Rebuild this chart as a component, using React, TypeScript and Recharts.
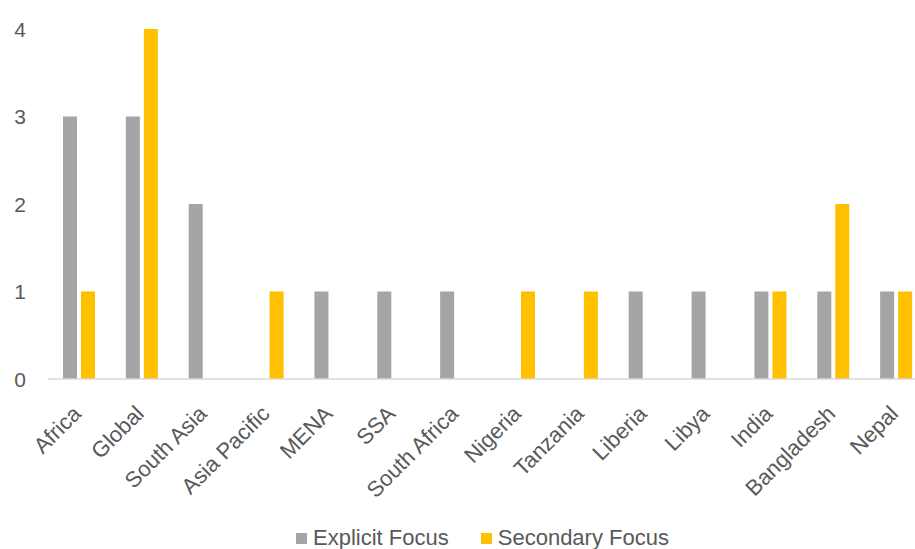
import React from "react";
import { BarChart, Bar, XAxis, YAxis, Legend } from "recharts";

const categories = ["Africa", "Global", "South Asia", "Asia Pacific", "MENA", "SSA", "South Africa", "Nigeria", "Tanzania", "Liberia", "Libya", "India", "Bangladesh", "Nepal"];
const explicitFocus = [3, 3, 2, 0, 1, 1, 1, 0, 0, 1, 1, 1, 1, 1];
const secondaryFocus = [1, 4, 0, 1, 0, 0, 0, 1, 1, 0, 0, 1, 2, 1];
const yTicks = [0, 1, 2, 3, 4];

const data = categories.map((c, i) => ({ name: c, explicit: explicitFocus[i], secondary: secondaryFocus[i] }));

const FONT = "'Liberation Sans', Arial, sans-serif";
const TEXT = "#595959";
const GREY = "#A5A5A5";
const YELLOW = "#FFC000";

const XTick = (props: any) => {
  const { x, y, payload } = props;
  return (
    <g transform={`translate(${x + 3},${y + 28}) rotate(-45)`}>
      <text x={0} y={0} textAnchor="end" fill={TEXT} fontSize={22} fontFamily={FONT}>
        {payload.value}
      </text>
    </g>
  );
};

const YTick = (props: any) => {
  const { y, payload } = props;
  return (
    <text x={20} y={y} textAnchor="middle" dominantBaseline="central" fill={TEXT} fontSize={21} fontFamily={FONT}>
      {payload.value}
    </text>
  );
};

const LegendContent = () => (
  <div style={{ display: "flex", justifyContent: "center", alignItems: "center", fontFamily: FONT, fontSize: 22, lineHeight: "24px", color: TEXT }}>
    <span style={{ display: "inline-block", width: 11, height: 11, background: GREY, marginRight: 6 }} />
    <span style={{ marginRight: 32 }}>Explicit Focus</span>
    <span style={{ display: "inline-block", width: 11, height: 11, background: YELLOW, marginRight: 6 }} />
    <span>Secondary Focus</span>
  </div>
);

export default function App() {
  return (
    <div style={{ position: "absolute", left: 0, top: 0, width: 915, height: 549, overflow: "hidden", background: "#fff" }}>
      <BarChart
        width={940}
        height={549}
        data={data}
        margin={{ top: 29, right: 12, bottom: 4, left: 0 }}
        barSize={14}
        barGap={4}
      >
        <XAxis
          dataKey="name"
          interval={0}
          tickLine={false}
          axisLine={{ stroke: "#D9D9D9", strokeWidth: 1.5 }}
          tick={<XTick />}
          height={130}
        />
        <YAxis
          domain={[0, 4]}
          ticks={yTicks}
          width={48}
          axisLine={false}
          tickLine={false}
          tick={<YTick />}
        />
        <Legend
          verticalAlign="bottom"
          height={36}
          content={<LegendContent />}
          wrapperStyle={{ left: 0, width: 965, bottom: "auto", top: 526 }}
        />
        <Bar dataKey="explicit" name="Explicit Focus" fill={GREY} isAnimationActive={false} />
        <Bar dataKey="secondary" name="Secondary Focus" fill={YELLOW} isAnimationActive={false} />
      </BarChart>
    </div>
  );
}
